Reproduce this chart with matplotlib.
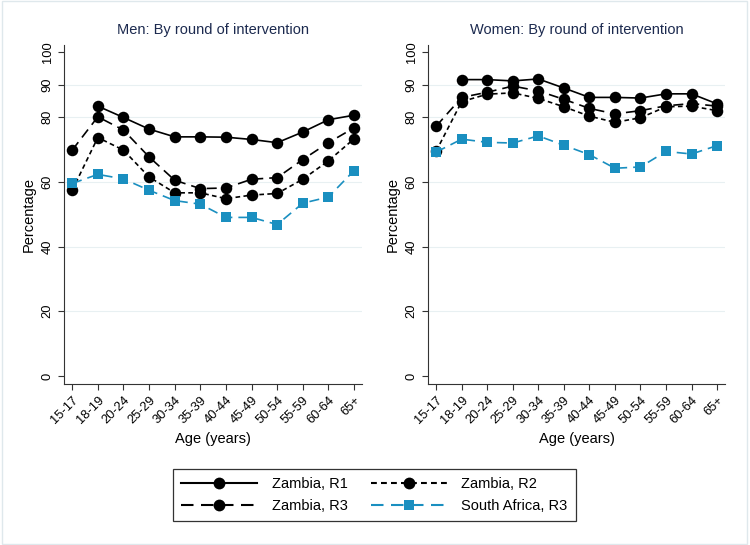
import numpy as np
import matplotlib.pyplot as plt
from matplotlib.lines import Line2D

plt.rcParams['font.family'] = ['Liberation Sans', 'DejaVu Sans']

ages = ['15-17', '18-19', '20-24', '25-29', '30-34', '35-39', '40-44',
        '45-49', '50-54', '55-59', '60-64', '65+']

men_r1 = [np.nan, 83.4, 79.9, 76.3, 73.9, 73.9, 73.8, 73.1, 72.1, 75.4, 79.2, 80.6]
men_r2 = [57.4, 73.7, 69.8, 61.5, 56.6, 56.6, 54.8, 55.9, 56.4, 60.8, 66.5, 73.3]
men_r3 = [69.8, 80.1, 76.0, 67.7, 60.5, 57.9, 58.1, 60.8, 61.3, 66.9, 72.1, 76.7]
men_sa = [59.5, 62.3, 60.9, 57.4, 54.2, 53.1, 49.0, 49.0, 46.8, 53.4, 55.3, 63.5]

women_r1 = [np.nan, 91.6, 91.6, 91.2, 91.8, 89.0, 86.1, 86.1, 85.9, 87.2, 87.2, 84.1]
women_r2 = [69.5, 84.8, 87.1, 87.5, 85.8, 83.2, 80.3, 78.4, 79.8, 83.2, 83.4, 82.0]
women_r3 = [77.2, 86.1, 87.7, 89.6, 88.1, 85.5, 82.7, 81.0, 82.0, 83.5, 84.2, 83.4]
women_sa = [69.2, 73.2, 72.2, 72.0, 74.2, 71.3, 68.4, 64.2, 64.6, 69.4, 68.6, 71.2]

yticks = [0, 20, 40, 60, 80, 90, 100]

blue = '#1a8fc0'
title_col = '#1c2a4f'

styles = {
    'r1': dict(color='black', linestyle='-', marker='o'),
    'r2': dict(color='black', linestyle=(0, (2.8, 2.0)), marker='o'),
    'r3': dict(color='black', linestyle=(0, (6, 3.6)), marker='o'),
    'sa': dict(color=blue, linestyle=(0, (6, 3.6)), marker='s'),
}


def draw(ax, title, r1, r2, r3, sa):
    x = np.arange(len(ages))
    for key, vals in (('r2', r2), ('r3', r3), ('r1', r1), ('sa', sa)):
        st = styles[key]
        ax.plot(x, vals, linewidth=1.2, markersize=8.3 if key != 'sa' else 7.6,
                markeredgewidth=0, **st)
    ax.set_title(title, fontsize=10.5, color=title_col, pad=8)
    ax.set_xlim(-0.32, 11.31)
    ax.set_ylim(-2.5, 102.3)
    ax.set_yticks(yticks)
    ax.set_yticklabels([str(t) for t in yticks], rotation=90, va='center')
    ax.set_xticks(x)
    ax.set_xticklabels(ages, rotation=45, ha='right', rotation_mode='anchor')
    ax.tick_params(axis='both', labelsize=9.3, color='#333333', length=4)
    ax.set_ylabel('Percentage', fontsize=10.5)
    ax.set_xlabel('Age (years)', fontsize=10.5, labelpad=4)
    for g in yticks[1:-1]:
        ax.axhline(g, color='#e8f0f2', linewidth=0.8, zorder=0)
    ax.spines['top'].set_visible(False)
    ax.spines['right'].set_visible(False)
    for s in ('left', 'bottom'):
        ax.spines[s].set_color('#333333')
        ax.spines[s].set_linewidth(0.8)


fig = plt.figure(figsize=(7.5, 5.45), dpi=100)
ax1 = fig.add_axes([64 / 750, 161 / 545, 298 / 750, 339 / 545])
ax2 = fig.add_axes([428 / 750, 161 / 545, 297 / 750, 339 / 545])

draw(ax1, 'Men: By round of intervention', men_r1, men_r2, men_r3, men_sa)
draw(ax2, 'Women: By round of intervention', women_r1, women_r2, women_r3, women_sa)

labels = {'r1': 'Zambia, R1', 'r2': 'Zambia, R2', 'r3': 'Zambia, R3', 'sa': 'South Africa, R3'}
handles = []
for key in ('r1', 'r3', 'r2', 'sa'):
    st = styles[key]
    handles.append(Line2D([], [], linewidth=1.5, markersize=8.5 if key != 'sa' else 7.8,
                          markeredgewidth=0, label=labels[key], **st))
leg = fig.legend(handles=handles, ncol=2, loc='center', bbox_to_anchor=(0.4993, 0.0917),
                 fontsize=10.5, handlelength=5.2, columnspacing=1.6, handletextpad=1.0,
                 fancybox=False, edgecolor='#333333', framealpha=1, borderpad=0.6,
                 labelspacing=0.5)
leg.get_frame().set_linewidth(0.9)

fig.patches.append(plt.Rectangle((0.002, 0.002), 0.9935, 0.996, transform=fig.transFigure,
                                 fill=False, edgecolor='#dfe8ec', linewidth=1.0))

fig.savefig('out.png', dpi=100)
